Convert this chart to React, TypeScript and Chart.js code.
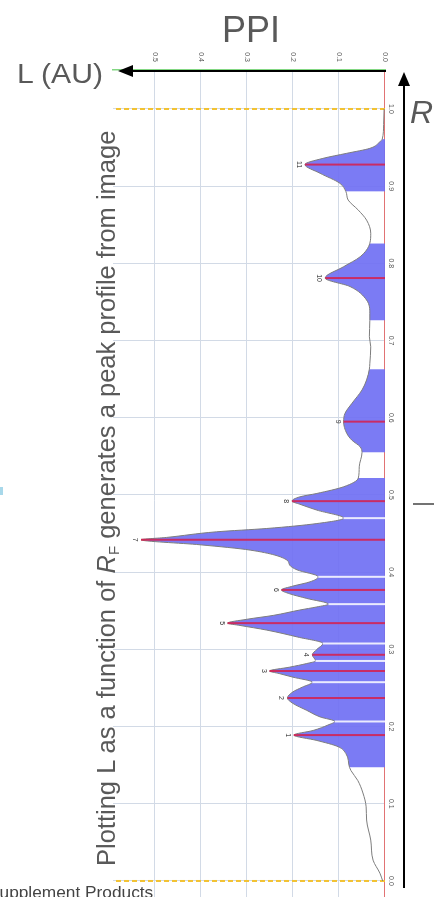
import React, { useEffect, useRef } from 'react';
import { Chart, registerables } from 'chart.js';

Chart.register(...registerables);

// ---- data ----
const R_TICKS = [0, 0.1, 0.2, 0.3, 0.4, 0.5, 0.6, 0.7, 0.8, 0.9, 1.0];
const PPI_TICKS = [0, 0.1, 0.2, 0.3, 0.4, 0.5];

const PROFILE_R = [
  0.0, 0.01, 0.027, 0.053, 0.079, 0.096, 0.114, 0.13, 0.143, 0.147,
  0.165, 0.174, 0.182, 0.189, 0.195, 0.202, 0.2066, 0.2125, 0.221, 0.23,
  0.237, 0.245, 0.251, 0.2575, 0.264, 0.2687, 0.272, 0.277, 0.2817, 0.285,
  0.293, 0.3, 0.3076, 0.316, 0.325, 0.331, 0.334, 0.339, 0.344, 0.351,
  0.355, 0.3586, 0.366, 0.372, 0.377, 0.382, 0.3875, 0.394, 0.403, 0.409,
  0.4156, 0.4286, 0.4355, 0.442, 0.445, 0.4523, 0.4566, 0.463, 0.47, 0.4804,
  0.488, 0.492, 0.4976, 0.502, 0.5106, 0.522, 0.5365, 0.555, 0.5624, 0.571,
  0.5797, 0.595, 0.6057, 0.6186, 0.636, 0.649, 0.663, 0.67, 0.692, 0.705,
  0.726, 0.735, 0.7525, 0.77, 0.781, 0.7957, 0.8086, 0.826, 0.839, 0.856,
  0.869, 0.882, 0.893, 0.9037, 0.9167, 0.928, 0.936, 0.9426, 0.949, 0.9576,
  0.961, 0.98, 1.0,
];
const PROFILE_PPI = [
  0.005, 0.011, 0.026, 0.031, 0.04, 0.041, 0.048, 0.059, 0.074, 0.077,
  0.085, 0.102, 0.148, 0.198, 0.156, 0.124, 0.109, 0.141, 0.17, 0.2,
  0.212, 0.2, 0.18, 0.158, 0.2, 0.23, 0.251, 0.207, 0.17, 0.151,
  0.158, 0.148, 0.135, 0.19, 0.257, 0.315, 0.342, 0.3, 0.243, 0.185,
  0.148, 0.123, 0.17, 0.207, 0.225, 0.2, 0.163, 0.145, 0.191, 0.207,
  0.213, 0.293, 0.402, 0.53, 0.475, 0.366, 0.257, 0.148, 0.09, 0.148,
  0.185, 0.202, 0.185, 0.148, 0.09, 0.058, 0.056, 0.05, 0.054, 0.072,
  0.083, 0.09, 0.087, 0.072, 0.05, 0.04, 0.034, 0.033, 0.031, 0.034,
  0.033, 0.033, 0.04, 0.076, 0.13, 0.09, 0.054, 0.033, 0.031, 0.04,
  0.058, 0.08, 0.085, 0.098, 0.141, 0.174, 0.135, 0.083, 0.033, 0.011,
  0.006, 0.003, 0.002,
];

const FILL_START = [0.147, 0.555, 0.726, 0.893];
const FILL_END = [0.522, 0.663, 0.826, 0.961];

const PEAK_LABELS = ['1', '2', '3', '4', '5', '6', '7', '8', '9', '10', '11'];
const PEAK_R = [0.189, 0.237, 0.272, 0.293, 0.334, 0.377, 0.442, 0.492, 0.595, 0.781, 0.928];
const PEAK_PPI = [0.198, 0.212, 0.251, 0.158, 0.342, 0.225, 0.53, 0.202, 0.09, 0.13, 0.174];

const VALLEY_R = [0.2066, 0.2575, 0.285, 0.3076, 0.3586, 0.394, 0.47];
const VALLEY_PPI = [0.109, 0.158, 0.151, 0.135, 0.123, 0.145, 0.09];

const MARKER_R = [0, 1];

const R_MIN = -0.0635;
const R_MAX = 1.0505;
const PPI_MAX = 0.591;

const BLUE = 'rgba(112,112,243,0.92)';
const FONT = 'Arial, "Liberation Sans", Helvetica, sans-serif';

function inFill(r: number) {
  for (let i = 0; i < FILL_START.length; i++) {
    if (r >= FILL_START[i] && r <= FILL_END[i]) return true;
  }
  return false;
}

function stems(rs: number[], vs: number[]) {
  const out: any[] = [];
  rs.forEach((r, i) => {
    out.push({ x: r, y: 0 }, { x: r, y: vs[i] }, { x: r, y: null });
  });
  return out;
}

const peakLabelPlugin = {
  id: 'peakLabels',
  afterDatasetsDraw(chart: any) {
    const { ctx, scales } = chart;
    const xs = scales.x;
    const ys = scales.y;
    ctx.save();
    ctx.font = `7px ${FONT}`;
    ctx.fillStyle = '#333';
    ctx.textAlign = 'center';
    ctx.textBaseline = 'middle';
    PEAK_R.forEach((r, i) => {
      ctx.fillText(PEAK_LABELS[i], xs.getPixelForValue(r), ys.getPixelForValue(PEAK_PPI[i]) + 6);
    });
    ctx.restore();
  },
};

export default function App() {
  const ref = useRef<HTMLCanvasElement | null>(null);

  useEffect(() => {
    if (!ref.current) return;
    const chart = new Chart(ref.current, {
      type: 'line',
      data: {
        datasets: [
          {
            label: 'peaks',
            data: stems(PEAK_R, PEAK_PPI),
            borderColor: 'rgba(215,30,75,0.85)',
            borderWidth: 2,
            pointRadius: 0,
            fill: false,
            order: 0,
          },
          {
            label: 'valleys',
            data: stems(VALLEY_R, VALLEY_PPI),
            borderColor: 'rgba(255,255,255,0.85)',
            borderWidth: 2,
            pointRadius: 0,
            fill: false,
            order: 1,
          },
          {
            label: 'profile',
            data: PROFILE_R.map((r, i) => ({ x: r, y: PROFILE_PPI[i] })),
            borderColor: '#7d7d7d',
            borderWidth: 1,
            pointRadius: 0,
            cubicInterpolationMode: 'monotone',
            fill: 'origin',
            backgroundColor: BLUE,
            segment: {
              backgroundColor: (ctx: any) =>
                inFill((PROFILE_R[ctx.p0DataIndex] + PROFILE_R[ctx.p1DataIndex]) / 2)
                  ? BLUE
                  : 'rgba(0,0,0,0)',
            },
            order: 2,
          },
          {
            label: 'markers',
            data: stems(MARKER_R, MARKER_R.map(() => PPI_MAX)),
            borderColor: '#f2c232',
            borderWidth: 2,
            borderDash: [5, 3],
            pointRadius: 0,
            fill: false,
            order: 3,
          },
        ],
      },
      options: {
        responsive: false,
        animation: false,
        devicePixelRatio: 1,
        layout: { autoPadding: false, padding: { left: 0, top: 0, right: 0, bottom: 113 } },
        plugins: { legend: { display: false }, tooltip: { enabled: false }, title: { display: false } },
        scales: {
          x: {
            type: 'linear',
            position: 'top',
            reverse: true,
            min: R_MIN,
            max: R_MAX,
            offset: false,
            afterBuildTicks: (s: any) => {
              s.ticks = R_TICKS.map((value) => ({ value }));
            },
            afterFit: (s: any) => {
              s.height = 49;
            },
            ticks: {
              autoSkip: false,
              maxRotation: 0,
              minRotation: 0,
              padding: 2,
              color: '#555',
              font: { size: 7, family: FONT },
              callback: (v: any) => Number(v).toFixed(1),
            },
            grid: { color: '#d2dae6', lineWidth: 1, drawTicks: false },
            border: { color: 'rgba(225,110,110,0.95)', width: 1 },
          },
          y: {
            type: 'linear',
            position: 'left',
            reverse: true,
            min: 0,
            max: PPI_MAX,
            afterBuildTicks: (s: any) => {
              s.ticks = PPI_TICKS.map((value) => ({ value }));
            },
            afterFit: (s: any) => {
              s.width = 70;
            },
            ticks: {
              padding: 8,
              color: '#555',
              font: { size: 7, family: FONT },
              callback: (v: any) => Number(v).toFixed(1),
            },
            grid: { color: '#d2dae6', lineWidth: 1, drawTicks: false },
            border: { color: 'rgb(130,215,130)', width: 1.5 },
          },
        },
      },
      plugins: [peakLabelPlugin],
    } as any);
    return () => chart.destroy();
  }, []);

  return (
    <div
      style={{
        position: 'fixed',
        left: 0,
        top: 0,
        width: 434,
        height: 897,
        overflow: 'hidden',
        background: '#fff',
      }}
    >
      <canvas
        ref={ref}
        width={930}
        height={434}
        style={{
          position: 'absolute',
          left: 0,
          top: 0,
          width: 930,
          height: 434,
          transformOrigin: '0 0',
          transform: 'translate(434px, 0px) rotate(90deg)',
        }}
      />
      <svg
        width={434}
        height={897}
        style={{ position: 'absolute', left: 0, top: 0, pointerEvents: 'none' }}
        fontFamily={FONT}
      >
        <text x={251} y={42} fontSize={36} fill="#595959" textAnchor="middle">PPI</text>
        <text x={17} y={83} fontSize={27} fill="#595959" textLength={86} lengthAdjust="spacingAndGlyphs">L (AU)</text>
        <text x={410} y={123} fontSize={32} fill="#595959" fontStyle="italic">R</text>
        <line x1={386} y1={71} x2={128} y2={71} stroke="#000" strokeWidth={2} />
        <polygon points="118,71 133,65 133,77" fill="#000" />
        <line x1={404} y1={888} x2={404} y2={82} stroke="#000" strokeWidth={2} />
        <polygon points="404,72 398,86 410,86" fill="#000" />
        <line x1={413} y1={504} x2={434} y2={504} stroke="#444" strokeWidth={1.5} />
        <rect x={0} y={487} width={3} height={8} fill="#a8d8ea" />
        <text transform="translate(115, 866) rotate(-90)" x={0} y={0} fontSize={25.5} fill="#595959">
          Plotting L as a function of <tspan fontStyle="italic">R</tspan>
          <tspan fontSize={15} dy={4}>F</tspan>
          <tspan dy={-4}> generates a peak profile from image</tspan>
        </text>
        <text x={-12} y={898} fontSize={17.3} fill="#444">Supplement Products</text>
      </svg>
    </div>
  );
}
